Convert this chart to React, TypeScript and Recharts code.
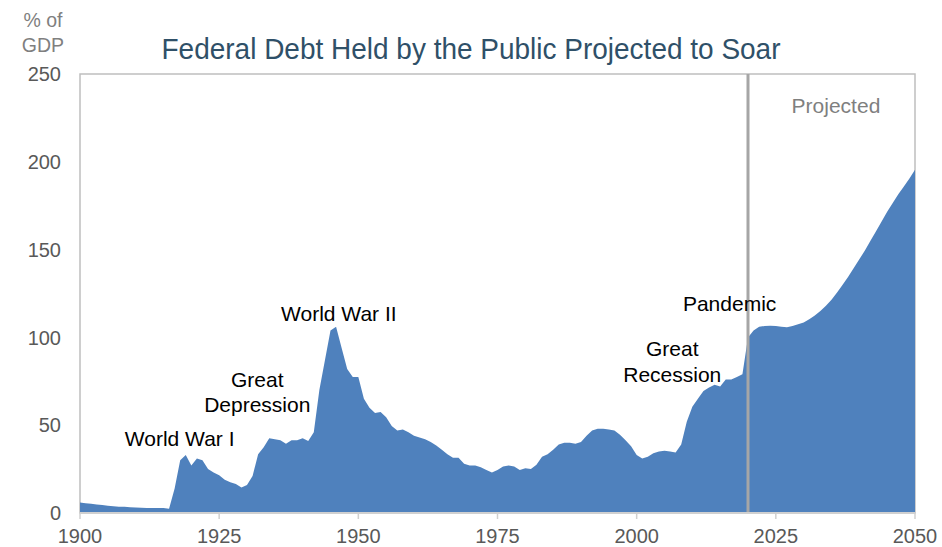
import React from 'react';
import { AreaChart, Area, XAxis, YAxis, ReferenceLine, ReferenceArea, ReferenceDot } from 'recharts';

// Federal debt held by the public, % of GDP, one value per year starting 1900
const startYear = 1900;
const debt1900s = [6.0, 5.6, 5.2, 4.8, 4.5, 4.1, 3.8, 3.6, 3.6, 3.3];
const debt1910s = [3.1, 3.0, 2.9, 2.8, 2.8, 2.9, 2.4, 14.0, 30.0, 33.0];
const debt1920s = [27.0, 31.0, 30.0, 25.0, 23.0, 21.5, 19.0, 17.5, 16.5, 14.5];
const debt1930s = [16.0, 21.0, 33.5, 37.5, 42.5, 42.0, 41.5, 39.5, 41.5, 41.5];
const debt1940s = [42.5, 41.0, 46.0, 70.0, 87.0, 104.0, 106.0, 94.0, 82.0, 77.5];
const debt1950s = [77.5, 65.0, 60.0, 57.0, 57.5, 54.5, 49.5, 47.0, 47.5, 46.0];
const debt1960s = [44.0, 43.0, 42.0, 40.5, 38.5, 36.0, 33.5, 31.5, 31.5, 28.0];
const debt1970s = [27.0, 27.0, 26.0, 24.5, 23.0, 24.5, 26.5, 27.0, 26.5, 24.5];
const debt1980s = [25.5, 25.0, 27.5, 32.0, 33.5, 36.0, 39.0, 40.0, 40.0, 39.5];
const debt1990s = [40.5, 44.0, 47.0, 48.0, 48.0, 47.5, 47.0, 44.5, 41.5, 38.0];
const debt2000s = [33.0, 31.0, 32.0, 34.0, 35.0, 35.5, 35.0, 34.5, 39.0, 52.0];
const debt2010s = [60.5, 65.0, 69.5, 71.5, 73.0, 72.0, 76.0, 76.0, 77.5, 79.0];
// projected
const debt2020s = [100.0, 104.0, 106.0, 106.5, 106.7, 106.5, 106.0, 105.8, 106.5, 107.5];
const debt2030s = [108.5, 110.3, 112.5, 115.0, 118.0, 121.5, 125.5, 130.0, 134.5, 139.5];
const debt2040s = [144.5, 149.5, 155.0, 160.5, 166.0, 171.5, 176.5, 181.5, 186.0, 190.5];
const debt2050 = [195.5];

const xTicks = [1900, 1925, 1950, 1975, 2000, 2025, 2050];
const yTicks = [0, 50, 100, 150, 200, 250];
const projectionStart = 2020;

const allDebt = [
  ...debt1900s, ...debt1910s, ...debt1920s, ...debt1930s, ...debt1940s,
  ...debt1950s, ...debt1960s, ...debt1970s, ...debt1980s, ...debt1990s,
  ...debt2000s, ...debt2010s, ...debt2020s, ...debt2030s, ...debt2040s, ...debt2050,
];

const data = allDebt.map((debt, i) => ({ year: startYear + i, debt }));

// annotation anchors (year, % of GDP at first baseline)
const notes = [
  { year: 1917.9, value: 38.0, lines: ['World War I'], color: '#000' },
  { year: 1931.85, value: 71.8, lines: ['Great', 'Depression'], color: '#000' },
  { year: 1946.5, value: 109.1, lines: ['World War II'], color: '#000' },
  { year: 2006.4, value: 89.2, lines: ['Great', 'Recession'], color: '#000' },
  { year: 2016.7, value: 114.8, lines: ['Pandemic'], color: '#000' },
  { year: 2035.8, value: 227.8, lines: ['Projected'], color: '#7f7f7f' },
];

const FONT = '"Liberation Sans", Arial, sans-serif';

const noteShape = (lines: string[], color: string) => (props: any) => (
  <text x={props.cx} y={props.cy} textAnchor="middle" fontFamily={FONT} fontSize={21} fill={color}>
    {lines.map((l, i) => (
      <tspan key={i} x={props.cx} dy={i === 0 ? 0 : 25.5}>{l}</tspan>
    ))}
  </text>
);

const App: React.FC = () => {
  return (
    <div style={{ position: 'absolute', left: 0, top: 0, width: 942, height: 547, background: '#fff' }}>
      <AreaChart
        width={942}
        height={547}
        data={data}
        margin={{ top: 74, right: 27, bottom: 0, left: 0 }}
        style={{ fontFamily: FONT }}
      >
        <ReferenceArea
          x1={1900}
          x2={2050}
          y1={0}
          y2={250}
          fill="none"
          stroke="#bfbfbf"
          strokeWidth={1.5}
        />
        <XAxis
          dataKey="year"
          type="number"
          domain={[1900, 2050]}
          ticks={xTicks}
          height={34}
          tickSize={6}
          tickMargin={10}
          axisLine={{ stroke: '#d0d0d0', strokeWidth: 2 }}
          tickLine={{ stroke: '#d0d0d0', strokeWidth: 1.5 }}
          tick={{ fontSize: 20, fill: '#595959', fontFamily: FONT }}
          allowDecimals={false}
        />
        <YAxis
          type="number"
          domain={[0, 250]}
          ticks={yTicks}
          width={80}
          axisLine={false}
          tickLine={false}
          tickSize={0}
          tickMargin={19}
          tick={{ fontSize: 20, fill: '#595959', fontFamily: FONT }}
        />
        <Area
          type="linear"
          dataKey="debt"
          stroke="none"
          fill="#4f81bd"
          fillOpacity={1}
          isAnimationActive={false}
        />
        <ReferenceLine x={projectionStart} stroke="#a6a6a6" strokeWidth={3} />
        {notes.map((n, i) => (
          <ReferenceDot
            key={i}
            x={n.year}
            y={n.value}
            r={1}
            shape={noteShape(n.lines, n.color)}
          />
        ))}
      </AreaChart>
      <svg
        width={942}
        height={547}
        style={{ position: 'absolute', left: 0, top: 0, pointerEvents: 'none' }}
      >
        <text
          x={471}
          y={58.5}
          textAnchor="middle"
          fontFamily={FONT}
          fontSize={29.5}
          fill="#2f5068"
          textLength={619}
          lengthAdjust="spacingAndGlyphs"
        >
          Federal Debt Held by the Public Projected to Soar
        </text>
        <text x={43} y={27} textAnchor="middle" fontFamily={FONT} fontSize={19.5} fill="#7f7f7f">% of</text>
        <text x={43} y={52} textAnchor="middle" fontFamily={FONT} fontSize={19.5} fill="#7f7f7f">GDP</text>
      </svg>
    </div>
  );
};

export default App;
